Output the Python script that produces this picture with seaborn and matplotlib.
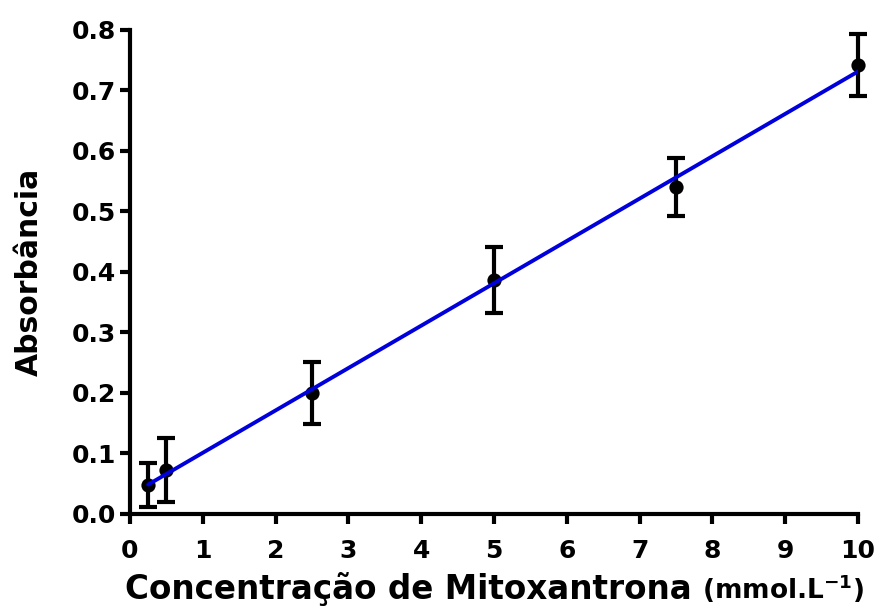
import numpy as np
import pandas as pd
import matplotlib
matplotlib.use("Agg")
import matplotlib.pyplot as plt
import seaborn as sns

# Calibration data: mitoxantrone concentration vs. absorbance (mean ± SD)
concentracao = [0.25, 0.5, 2.5, 5.0, 7.5, 10.0]
absorbancia = [0.048, 0.073, 0.200, 0.387, 0.540, 0.742]
desvio = [0.036, 0.053, 0.051, 0.054, 0.048, 0.051]

x_ticks = [0, 1, 2, 3, 4, 5, 6, 7, 8, 9, 10]
y_ticks = [0.0, 0.1, 0.2, 0.3, 0.4, 0.5, 0.6, 0.7, 0.8]

df = pd.DataFrame({"conc": concentracao, "abs": absorbancia, "sd": desvio})

sns.set_style("ticks", rc={"axes.edgecolor": "black", "text.color": "black",
                           "xtick.color": "black", "ytick.color": "black",
                           "axes.labelcolor": "black"})
plt.rcParams["font.family"] = ["DejaVu Sans"]
plt.rcParams["font.weight"] = "bold"
plt.rcParams["mathtext.default"] = "bf"

fig = plt.figure(figsize=(8.8, 6.16), dpi=100)
ax = fig.add_axes([0.1477, 0.1656, 0.8273, 0.7857])

# linear regression line
sns.regplot(data=df, x="conc", y="abs", ax=ax, ci=None, scatter=False,
            truncate=True, line_kws=dict(color="#0000dd", lw=2.8, zorder=4))

# error bars
ax.errorbar(df["conc"], df["abs"], yerr=df["sd"], fmt="none", ecolor="black",
            elinewidth=3, capsize=6.5, capthick=3, zorder=3, clip_on=False)

# mean points
sns.scatterplot(data=df, x="conc", y="abs", ax=ax, color="black", s=105,
                edgecolor="black", linewidth=0, zorder=3, clip_on=False)

ax.set_xlim(0, 10)
ax.set_ylim(0, 0.8)
ax.set_xticks(x_ticks)
ax.set_yticks(y_ticks)
ax.set_xticklabels([str(t) for t in x_ticks])
ax.set_yticklabels([f"{t:.1f}" for t in y_ticks])

sns.despine(ax=ax)
for s in ("left", "bottom"):
    ax.spines[s].set_linewidth(3)
ax.tick_params(axis="both", width=3, length=7, labelsize=18)
ax.tick_params(axis="x", pad=11)
ax.tick_params(axis="y", pad=3)
for lab in ax.get_xticklabels() + ax.get_yticklabels():
    lab.set_fontweight("bold")

ax.set_xlabel("")
ax.set_ylabel("Absorbância", fontsize=21.5, fontweight="bold", labelpad=20)

# x-axis title with smaller units
fig.canvas.draw()
renderer = fig.canvas.get_renderer()
t1 = fig.text(0.142, 0.027, "Concentração de Mitoxantrona", fontsize=23.5,
              fontweight="bold", ha="left", va="baseline")
bb = t1.get_window_extent(renderer=renderer)
x_end = bb.x1 / fig.bbox.width
fig.text(x_end + 0.012, 0.027, r"(mmol.L$^{-1}$)", fontsize=19,
         fontweight="bold", ha="left", va="baseline")

fig.savefig("out.png", dpi=100)
